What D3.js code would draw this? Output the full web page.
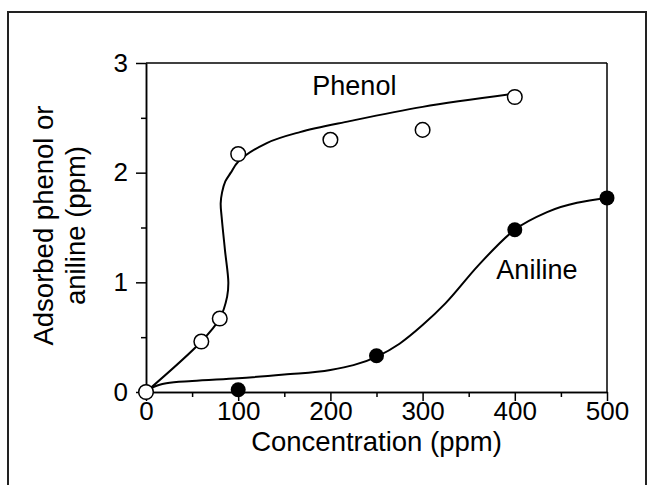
<!DOCTYPE html>
<html>
<head>
<meta charset="utf-8">
<script src="https://cdn.jsdelivr.net/npm/d3@7"></script>
<style>
  html, body { margin: 0; padding: 0; background: #fff; }
  svg text { font-family: "Liberation Sans", Arial, sans-serif; fill: #000; }
  .axis path, .axis line { stroke: #000; stroke-width: 1.5; }
  .axis text { font-size: 26px; }
</style>
</head>
<body>
<div id="wrapper"></div>
<script>
// measured points
const phenolConc = [0, 60, 80, 100, 200, 300, 400];
const phenolAds = [0, 0.46, 0.67, 2.17, 2.30, 2.39, 2.69];
const anilineConc = [0, 100, 250, 400, 500];
const anilineAds = [0, 0.02, 0.33, 1.48, 1.77];

// fitted curves
const phenolFitConc = [0, 60, 80, 88, 89.3, 85.7, 82, 81, 82.5, 86, 92, 100, 131, 167, 221, 300, 400];
const phenolFitAds = [0, 0.46, 0.67, 0.87, 1.0, 1.29, 1.6, 1.72, 1.82, 1.92, 2.0, 2.1, 2.27, 2.37, 2.47, 2.6, 2.72];
const anilineFitConc = [0, 8, 22, 50, 100, 150, 200, 250, 275, 300, 325, 360, 400, 435, 500];
const anilineFitAds = [0, 0.045, 0.08, 0.1, 0.125, 0.16, 0.2, 0.32, 0.44, 0.61, 0.81, 1.15, 1.48, 1.64, 1.77];

const xTicks = [0, 100, 200, 300, 400, 500];
const xMinorTicks = [50, 150, 250, 350, 450];
const yTicks = [0, 1, 2, 3];
const yMinorTicks = [0.5, 1.5, 2.5];

const xLabel = "Concentration (ppm)";
const yLabelLines = ["Adsorbed phenol or", "aniline (ppm)"];

function drawChart() {
    const width = 650, height = 485;
    const margin = { top: 63, right: 43, bottom: 93, left: 146 };
    const boundedWidth = width - margin.left - margin.right;
    const boundedHeight = height - margin.top - margin.bottom;

    const svg = d3.select("#wrapper").append("svg")
        .attr("width", width)
        .attr("height", height);

    // outer frame
    svg.append("rect")
        .attr("x", 8).attr("y", 12)
        .attr("width", 638).attr("height", 490)
        .attr("fill", "none")
        .attr("stroke", "#222")
        .attr("stroke-width", 2);

    const bounds = svg.append("g")
        .attr("transform", `translate(${margin.left},${margin.top})`);

    const xScale = d3.scaleLinear().domain([0, 500]).range([0, boundedWidth]);
    const yScale = d3.scaleLinear().domain([0, 3]).range([boundedHeight, 0]);

    // top and right of the box
    bounds.append("line")
        .attr("x1", xScale(0)).attr("x2", xScale(500))
        .attr("y1", yScale(3)).attr("y2", yScale(3))
        .attr("stroke", "#000").attr("stroke-width", 1.5);
    bounds.append("line")
        .attr("x1", xScale(500)).attr("x2", xScale(500))
        .attr("y1", yScale(0)).attr("y2", yScale(3))
        .attr("stroke", "#000").attr("stroke-width", 1.5);

    // axes
    bounds.append("g")
        .attr("class", "axis")
        .attr("transform", `translate(0,${boundedHeight})`)
        .call(d3.axisBottom(xScale).tickValues(xMinorTicks).tickSize(5).tickFormat("").tickSizeOuter(0));
    const xAxis = bounds.append("g")
        .attr("class", "axis")
        .attr("transform", `translate(0,${boundedHeight})`)
        .call(d3.axisBottom(xScale).tickValues(xTicks).tickSize(9).tickSizeOuter(0));
    xAxis.selectAll("text").attr("y", 28).attr("dy", null);

    bounds.append("g")
        .attr("class", "axis")
        .call(d3.axisLeft(yScale).tickValues(yMinorTicks).tickSize(5).tickFormat("").tickSizeOuter(0));
    bounds.append("g")
        .attr("class", "axis")
        .call(d3.axisLeft(yScale).tickValues(yTicks).tickFormat(d3.format("d"))
            .tickSize(10).tickPadding(8).tickSizeOuter(0));

    // axis titles
    svg.append("text")
        .attr("x", margin.left + boundedWidth / 2)
        .attr("y", 451)
        .attr("text-anchor", "middle")
        .style("font-size", "27.5px")
        .text(xLabel);

    const yTitle = svg.append("text")
        .attr("transform", `translate(53,${margin.top + boundedHeight / 2 - 2}) rotate(-90)`)
        .attr("text-anchor", "middle")
        .style("font-size", "27.5px");
    yTitle.selectAll("tspan")
        .data(yLabelLines)
        .join("tspan")
        .attr("x", 0)
        .attr("dy", (d, i) => i === 0 ? 0 : 32)
        .text(d => d);

    // fitted curves
    const phenolLine = d3.line()
        .x(d => xScale(d[0]))
        .y(d => yScale(d[1]))
        .curve(d3.curveCatmullRom.alpha(0.5));
    const anilineLine = d3.line()
        .x(d => xScale(d[0]))
        .y(d => yScale(d[1]))
        .curve(d3.curveMonotoneX);

    bounds.append("path")
        .attr("d", anilineLine(anilineFitConc.map((c, i) => [c, anilineFitAds[i]])))
        .attr("fill", "none").attr("stroke", "#000").attr("stroke-width", 2);
    bounds.append("path")
        .attr("d", phenolLine(phenolFitConc.map((c, i) => [c, phenolFitAds[i]])))
        .attr("fill", "none").attr("stroke", "#000").attr("stroke-width", 2);

    // points
    bounds.selectAll(".aniline")
        .data(anilineConc)
        .join("circle")
        .attr("class", "aniline")
        .attr("cx", d => xScale(d))
        .attr("cy", (d, i) => yScale(anilineAds[i]))
        .attr("r", 7.5)
        .attr("fill", "#000");

    bounds.selectAll(".phenol")
        .data(phenolConc)
        .join("circle")
        .attr("class", "phenol")
        .attr("cx", d => xScale(d))
        .attr("cy", (d, i) => yScale(phenolAds[i]))
        .attr("r", 7.3)
        .attr("fill", "#fff")
        .attr("stroke", "#000")
        .attr("stroke-width", 1.5);

    // series labels
    bounds.append("text")
        .attr("x", xScale(226)).attr("y", yScale(2.71))
        .attr("text-anchor", "middle")
        .style("font-size", "27px")
        .text("Phenol");
    bounds.append("text")
        .attr("x", xScale(380)).attr("y", yScale(1.03))
        .style("font-size", "27px")
        .text("Aniline");
}

drawChart();
</script>
</body>
</html>
